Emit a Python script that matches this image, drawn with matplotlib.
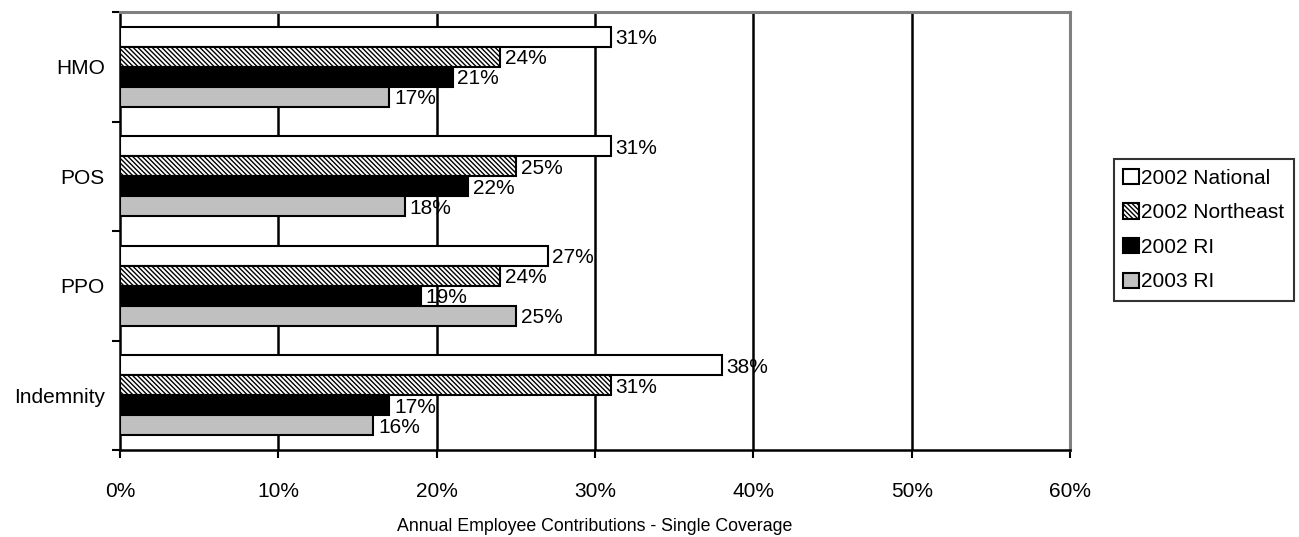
import matplotlib
matplotlib.use("Agg")
import matplotlib.pyplot as plt
import numpy as np

plt.rcParams['font.family'] = ['Liberation Sans', 'DejaVu Sans']
plt.rcParams['hatch.linewidth'] = 1.0

categories = ["HMO", "POS", "PPO", "Indemnity"]
series_names = ["2002 National", "2002 Northeast", "2002 RI", "2003 RI"]
national_2002 = [31, 31, 27, 38]
northeast_2002 = [24, 25, 24, 31]
ri_2002 = [21, 22, 19, 17]
ri_2003 = [17, 18, 25, 16]
x_ticks = [0, 10, 20, 30, 40, 50, 60]

series_values = [national_2002, northeast_2002, ri_2002, ri_2003]
face_colors = ["white", "white", "black", "#c0c0c0"]
hatches = [None, "\\\\\\\\\\\\\\", None, None]

fig = plt.figure(figsize=(12.99, 5.37), dpi=100)
ax = fig.add_axes([120 / 1299, 1 - 450 / 537, 950 / 1299, 438 / 537])

n_cat = len(categories)
bar_h = 0.183
y_centers = np.arange(n_cat)
fs = 15

for i, (name, vals) in enumerate(zip(series_names, series_values)):
    offs = (i - 1.5) * bar_h
    ys = y_centers + offs
    ax.barh(ys, vals, height=bar_h, color=face_colors[i],
            edgecolor="black", linewidth=1.5, hatch=hatches[i],
            label=name, zorder=3)
    for y, v in zip(ys, vals):
        ax.text(v + 0.3, y + 0.02, f"{v}%", va="center", ha="left",
                fontsize=fs, zorder=4)

ax.set_xlim(0, 60)
ax.set_ylim(n_cat - 0.5, -0.5)
ax.set_xticks(x_ticks)
ax.set_xticklabels([f"{t}%" for t in x_ticks], fontsize=fs)
ax.set_yticks(y_centers)
ax.set_yticklabels(categories, fontsize=fs)
ax.set_yticks(np.arange(n_cat + 1) - 0.5, minor=True)
ax.tick_params(axis="y", which="major", length=0, pad=11)
ax.tick_params(axis="y", which="minor", length=6, width=1.5, direction="out")
ax.tick_params(axis="x", which="major", length=6, width=1.5, direction="out", pad=17)

for t in x_ticks[1:-1]:
    ax.axvline(t, color="black", linewidth=1.8, zorder=1)

ax.spines["left"].set_linewidth(1.8)
ax.spines["bottom"].set_linewidth(1.8)
ax.spines["top"].set_color("#808080")
ax.spines["right"].set_color("#808080")
ax.spines["top"].set_linewidth(2.2)
ax.spines["right"].set_linewidth(2.2)

ax.set_xlabel("Annual Employee Contributions - Single Coverage", fontsize=12.8, labelpad=12)

leg = fig.legend(loc="center left", bbox_to_anchor=(1114 / 1299, 1 - 230 / 537),
                 fontsize=fs, frameon=True, fancybox=False, edgecolor="black",
                 handlelength=0.75, handleheight=0.75, handletextpad=0.1,
                 labelspacing=0.75, borderpad=0.45, borderaxespad=0)
leg.get_frame().set_linewidth(1.5)

fig.savefig("out.png", dpi=100)
